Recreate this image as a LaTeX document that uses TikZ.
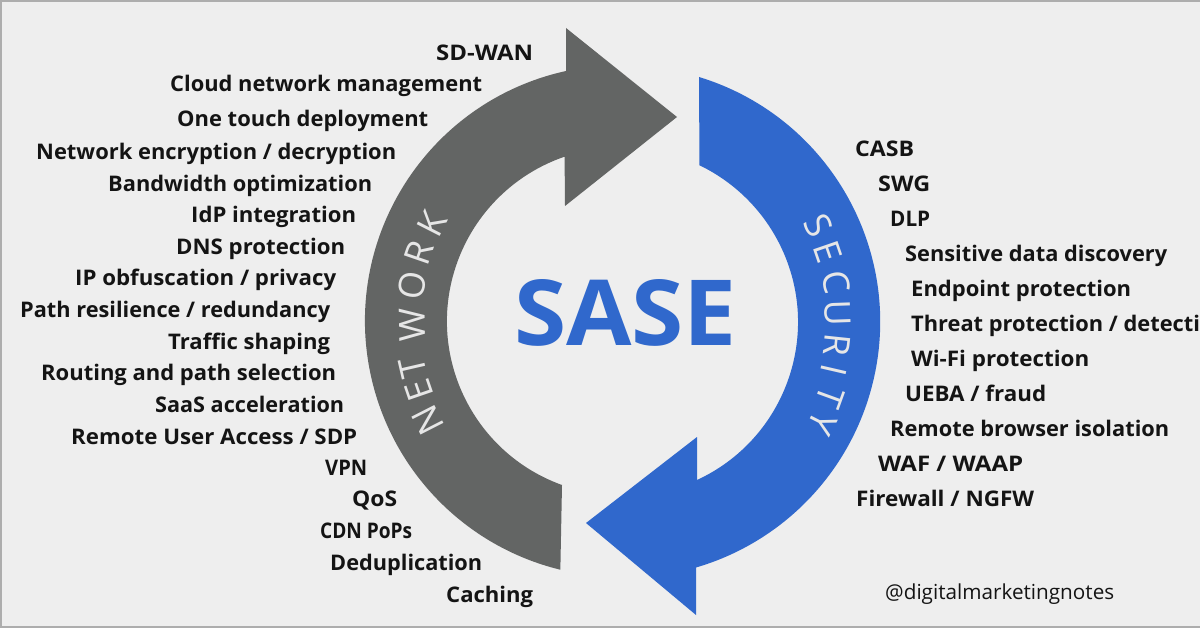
\documentclass[tikz,border=0pt]{standalone}
\usepackage{fontspec}
\usepackage{graphicx}
\setmainfont{Open Sans}
\definecolor{bgc}{HTML}{EEEEEE}
\definecolor{edgec}{HTML}{ADADAD}
\definecolor{netc}{HTML}{636564}
\definecolor{secc}{HTML}{3068CC}
\definecolor{labc}{HTML}{141414}
\definecolor{arcl}{HTML}{E6E6E6}
\newcommand{\fitw}[2]{\resizebox{#1pt}{\height}{#2}}
\tikzset{
  lab/.style={anchor=mid west,inner sep=0pt,yshift=-5.5pt,text=labc,font=\fontsize{21.5}{24}\selectfont\bfseries},
  arcletter/.style={inner sep=0pt,text=arcl,font=\fontsize{36}{38}\selectfont},
}
\begin{document}
\begin{tikzpicture}[x=1pt,y=-1pt]
\useasboundingbox (0,0) rectangle (1200,628);
\clip (0,0) rectangle (1200,628);
\fill[bgc] (0,0) rectangle (1200,628);
\fill[edgec] (0,0) rectangle (1200,2);
\fill[edgec] (0,0) rectangle (2,628);
\fill[edgec] (0,626) rectangle (1200,628);
% network arrow
\fill[netc] (677,117) -- (566,28) -- (566,71)
  arc[start angle=257.6,end angle=103.7,radius=256]
  -- (562,485)
  arc[start angle=109.8,end angle=251.1,radius=174]
  -- (565,206) -- cycle;
% security arrow
\fill[secc] (586,523) -- (697,437) -- (697,480)
  arc[start angle=65.2,end angle=-64.3,radius=174]
  -- (699,77)
  arc[start angle=-73,end angle=73.7,radius=256]
  -- (696,615) -- cycle;
% arc letters
\node[arcletter,rotate=117] (n1) at (428,420) {N};
\node[arcletter,rotate=109] (n2) at (419,390) {E};
\node[arcletter,rotate=103] (n3) at (413,368) {T};
\node[arcletter,rotate=91] (n4) at (412,325) {W};
\node[arcletter,rotate=80] (n5) at (412,285) {O};
\node[arcletter,rotate=71] (n6) at (419,253) {R};
\node[arcletter,rotate=63] (n7) at (432,224) {K};
\node[arcletter,rotate=-63] (s1) at (818,225) {S};
\node[arcletter,rotate=-71] (s2) at (828,252) {E};
\node[arcletter,rotate=-79] (s3) at (836,282) {C};
\node[arcletter,rotate=-88] (s4) at (838,313) {U};
\node[arcletter,rotate=-96] (s5) at (837,345) {R};
\node[arcletter,rotate=-103] (s6) at (834,370) {I};
\node[arcletter,rotate=-110] (s7) at (830,397) {T};
\node[arcletter,rotate=-117] (s8) at (822,423) {Y};
% centre
\node[inner sep=0pt,text=secc,font=\fontsize{91}{91}\selectfont\bfseries] (sase) at (625.5,312.5) {\resizebox{223pt}{66pt}{SASE}};
% left labels
\node[lab] (a1) at (436,52) {\fitw{97}{SD-WAN}};
\node[lab] (a2) at (170,83) {\fitw{312}{Cloud network management}};
\node[lab] (a3) at (177,118) {\fitw{251}{One touch deployment}};
\node[lab] (a4) at (36,151) {\fitw{360}{Network encryption / decryption}};
\node[lab] (a5) at (108,183) {\fitw{264}{Bandwidth optimization}};
\node[lab] (a6) at (191,214) {\fitw{165}{IdP integration}};
\node[lab] (a7) at (176,246) {\fitw{169}{DNS protection}};
\node[lab] (a8) at (75,277) {\fitw{261}{IP obfuscation / privacy}};
\node[lab] (a9) at (20,309) {\fitw{310}{Path resilience / redundancy}};
\node[lab] (a10) at (168,341) {\fitw{162}{Traffic shaping}};
\node[lab] (a11) at (41,372) {\fitw{295}{Routing and path selection}};
\node[lab] (a12) at (155,404) {\fitw{189}{SaaS acceleration}};
\node[lab] (a13) at (71,436) {\fitw{286}{Remote User Access / SDP}};
\node[lab] (a14) at (325,467) {\fitw{42}{VPN}};
\node[lab] (a15) at (352,498) {\fitw{45}{QoS}};
\node[lab] (a16) at (320,530) {\fitw{92}{CDN PoPs}};
\node[lab] (a17) at (330,562) {\fitw{152}{Deduplication}};
\node[lab] (a18) at (446,594) {\fitw{87}{Caching}};
% right labels
\node[lab] (b1) at (855,148) {\fitw{59}{CASB}};
\node[lab] (b2) at (878,183) {\fitw{52}{SWG}};
\node[lab] (b3) at (890,218) {\fitw{40}{DLP}};
\node[lab] (b4) at (905,253) {\fitw{262}{Sensitive data discovery}};
\node[lab] (b5) at (911,288) {\fitw{220}{Endpoint protection}};
\node[lab] (b6) at (911,323) {\resizebox{1.015\width}{\height}{Threat protection / detection}};
\node[lab] (b7) at (911,358) {\fitw{178}{Wi-Fi protection}};
\node[lab] (b8) at (905,393) {\fitw{141}{UEBA / fraud}};
\node[lab] (b9) at (890,428) {\fitw{279}{Remote browser isolation}};
\node[lab] (b10) at (878,463) {\fitw{145}{WAF / WAAP}};
\node[lab] (b11) at (856,498) {\fitw{178}{Firewall / NGFW}};
% watermark
\node[anchor=mid west,inner sep=0pt,yshift=-5pt,text=labc,font=\fontsize{20.7}{22}\selectfont] (w) at (885,592) {@digitalmarketingnotes};
\end{tikzpicture}
\end{document}
